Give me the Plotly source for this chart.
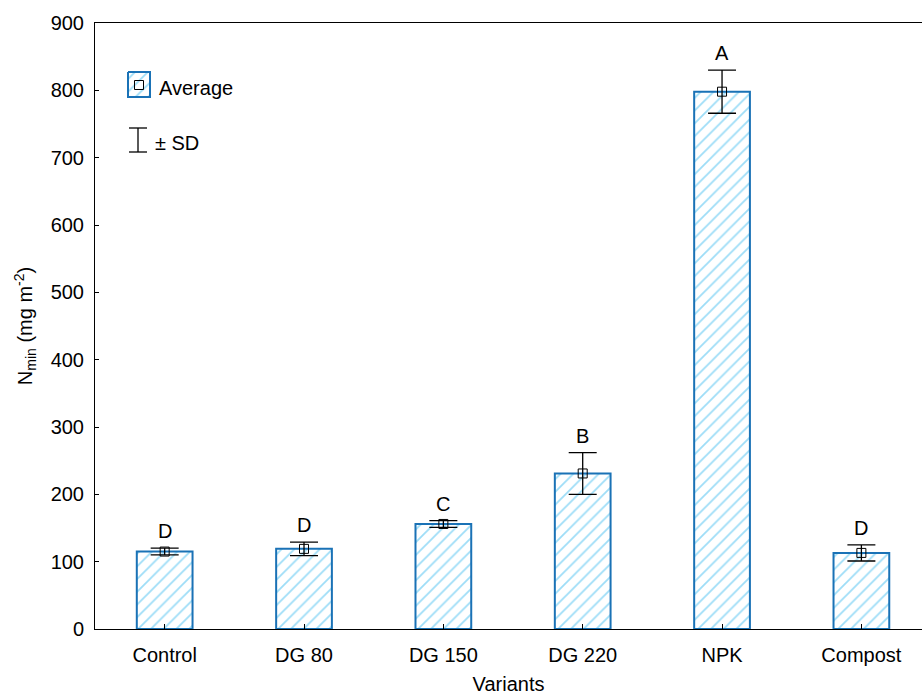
import plotly.graph_objects as go

categories = ["Control", "DG 80", "DG 150", "DG 220", "NPK", "Compost"]
means = [115, 119, 156, 231, 798, 113]
sd = [5, 10, 5, 31, 32, 12]
letters = ["D", "D", "C", "B", "A", "D"]
y_ticks = [0, 100, 200, 300, 400, 500, 600, 700, 800, 900]

FONT = "Liberation Sans, Arial, sans-serif"
BORDER = "#1a72b6"
HATCH = "#3dbcf0"
INK = "#000000"

x_idx = list(range(len(categories)))

fig = go.Figure()
fig.add_trace(go.Bar(
    x=x_idx, y=means, width=0.4,
    marker=dict(color="white", line=dict(color=BORDER, width=2),
                pattern=dict(shape="/", fgcolor=HATCH, bgcolor="white", size=9, solidity=0.2)),
    showlegend=False, hoverinfo="skip",
))
fig.add_trace(go.Scatter(
    x=x_idx, y=means, mode="markers",
    marker=dict(symbol="square-open", size=9, color=INK, line=dict(width=1, color=INK)),
    error_y=dict(type="data", array=sd, visible=True, color=INK, thickness=1.3, width=14),
    showlegend=False,
))
for i, (m, s, l) in enumerate(zip(means, sd, letters)):
    fig.add_annotation(x=i, y=m + s, text=l, showarrow=False, yanchor="bottom", yshift=4,
                       font=dict(family=FONT, size=20, color="black"))

# legend drawn on an overlay axis in pixel coordinates
lx = [128, 150, 150, 128, 128]
ly = [72, 72, 97, 97, 72]
fig.add_trace(go.Scatter(
    x=lx, y=ly, xaxis="x2", yaxis="y2", mode="lines", fill="toself",
    fillcolor="white", fillpattern=dict(shape="/", fgcolor=HATCH, bgcolor="white", size=9, solidity=0.2),
    line=dict(color=BORDER, width=2), showlegend=False, hoverinfo="skip",
))
fig.add_trace(go.Scatter(
    x=[139], y=[85], xaxis="x2", yaxis="y2", mode="markers",
    marker=dict(symbol="square-open", size=9, color=INK, line=dict(width=1, color=INK)),
    showlegend=False, hoverinfo="skip",
))
fig.add_trace(go.Scatter(
    x=[129, 147, None, 138, 138, None, 129, 147],
    y=[128, 128, None, 128, 152, None, 152, 152],
    xaxis="x2", yaxis="y2", mode="lines", line=dict(color=INK, width=1.3),
    showlegend=False, hoverinfo="skip",
))
fig.add_annotation(x=157, y=88, xref="x2", yref="y2", text="Average", showarrow=False,
                   xanchor="left", font=dict(family=FONT, size=20, color="black"))
fig.add_annotation(x=153, y=143, xref="x2", yref="y2", text="± SD", showarrow=False,
                   xanchor="left", font=dict(family=FONT, size=20, color="black"))

fig.update_layout(
    width=922, height=695,
    margin=dict(l=95, r=0, t=23, b=66),
    paper_bgcolor="white", plot_bgcolor="white",
    font=dict(family=FONT, size=20, color="black"),
    xaxis=dict(range=[-0.5, 5.435], tickmode="array", tickvals=x_idx, ticktext=categories,
               showline=True, linecolor="black", linewidth=1, mirror=True,
               ticks="inside", ticklen=5, tickcolor="black", showgrid=False, zeroline=False,
               ticklabelstandoff=8,
               title=dict(text="Variants", font=dict(size=20), standoff=14),
               tickfont=dict(size=20), automargin=False),
    yaxis=dict(range=[0, 900], tickvals=y_ticks, showline=True, linecolor="black", linewidth=1,
               ticks="inside", ticklen=4, tickcolor="black", showgrid=False, zeroline=False,
               ticklabelstandoff=6,
               title=dict(text="N<sub>min</sub> (mg m<sup>-2</sup>)", font=dict(size=20), standoff=12),
               tickfont=dict(size=20), automargin=False),
    xaxis2=dict(range=[95, 922], overlaying="x", visible=False, fixedrange=True),
    yaxis2=dict(range=[629, 23], overlaying="y", visible=False, fixedrange=True),
    bargap=0.6,
)

fig.write_html("out.html", config={"displayModeBar": False},
               post_script="document.body.style.margin='0';document.body.style.padding='0';")
